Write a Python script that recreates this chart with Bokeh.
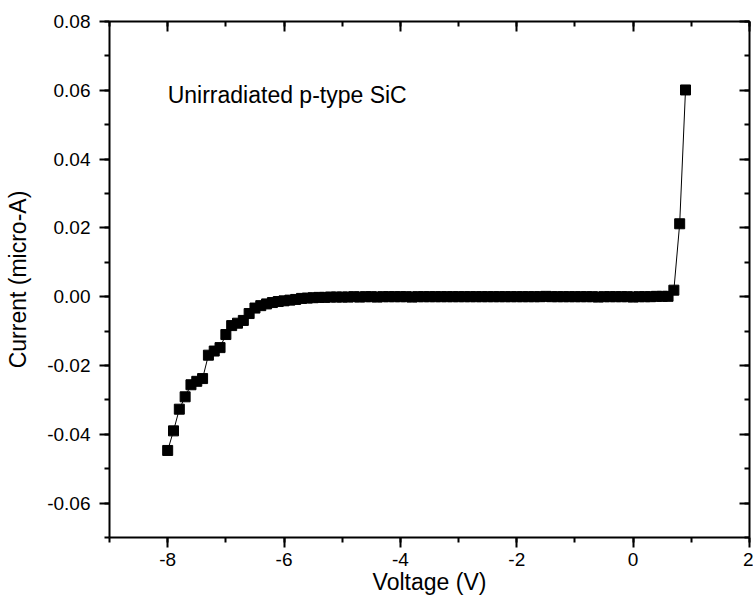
from bokeh.plotting import figure
from bokeh.models import (Range1d, LinearAxis, SingleIntervalTicker, PrintfTickFormatter,
                          Label, ColumnDataSource)
from bokeh.embed import file_html
from bokeh.resources import INLINE

voltage = [-8.0, -7.9, -7.8, -7.7, -7.6, -7.5, -7.4, -7.3, -7.2, -7.1,
           -7.0, -6.9, -6.8, -6.7, -6.6, -6.5, -6.4, -6.3, -6.2, -6.1,
           -6.0, -5.9, -5.8, -5.7, -5.6, -5.5, -5.4, -5.3, -5.2, -5.1,
           -5.0, -4.9, -4.8, -4.7, -4.6, -4.5, -4.4, -4.3, -4.2, -4.1,
           -4.0, -3.9, -3.8, -3.7, -3.6, -3.5, -3.4, -3.3, -3.2, -3.1,
           -3.0, -2.9, -2.8, -2.7, -2.6, -2.5, -2.4, -2.3, -2.2, -2.1,
           -2.0, -1.9, -1.8, -1.7, -1.6, -1.5, -1.4, -1.3, -1.2, -1.1,
           -1.0, -0.9, -0.8, -0.7, -0.6, -0.5, -0.4, -0.3, -0.2, -0.1,
           0.0, 0.1, 0.2, 0.3, 0.4, 0.5, 0.6, 0.7, 0.8, 0.9]

current = [-0.0447, -0.0390, -0.0327, -0.0291, -0.0256, -0.0246, -0.0238, -0.0170, -0.0158, -0.0148,
           -0.0110, -0.0084, -0.0077, -0.0069, -0.0049, -0.0033, -0.0026, -0.0021, -0.0017, -0.0014,
           -0.0012, -0.0010, -0.0008, -0.0005, -0.0004, -0.0003, -0.0002, -0.0002, -0.0001, -0.0001,
           -0.0001, -0.0001, 0.0000, -0.0001, 0.0000, 0.0000, -0.0001, 0.0000, 0.0000, 0.0000,
           0.0000, 0.0000, -0.0001, 0.0000, 0.0000, 0.0000, 0.0000, 0.0000, 0.0000, 0.0000,
           0.0000, 0.0000, 0.0000, 0.0000, 0.0000, 0.0000, 0.0000, 0.0000, 0.0000, 0.0000,
           0.0000, 0.0000, 0.0000, 0.0000, 0.0000, 0.0001, 0.0000, 0.0000, 0.0000, 0.0000,
           0.0000, 0.0000, 0.0000, 0.0000, -0.0001, 0.0000, 0.0000, 0.0000, 0.0000, 0.0000,
           -0.0001, 0.0000, 0.0000, 0.0000, 0.0001, 0.0001, 0.0001, 0.0019, 0.0212, 0.0601]

annotation = "Unirradiated p-type SiC"
x_title = "Voltage (V)"
y_title = "Current (micro-A)"

FONT = "Liberation Sans"

src = ColumnDataSource(data=dict(v=voltage, i=current))

p = figure(width=753, height=600, output_backend="svg", toolbar_location=None,
           x_range=Range1d(-9, 2), y_range=Range1d(-0.07, 0.08),
           x_axis_type=None, y_axis_type=None,
           min_border_left=109, min_border_right=4, min_border_top=21, min_border_bottom=63)
p.xgrid.visible = False
p.ygrid.visible = False
p.outline_line_color = None
p.background_fill_color = "white"
p.border_fill_color = "white"

def xt():
    return SingleIntervalTicker(interval=2, num_minor_ticks=2)

def yt():
    return SingleIntervalTicker(interval=0.02, num_minor_ticks=2)

def style(ax, inward, labels):
    ax.axis_line_width = 2
    ax.axis_line_color = "black"
    ax.major_tick_line_width = 2
    ax.minor_tick_line_width = 2
    ax.major_tick_line_color = "black"
    ax.minor_tick_line_color = "black"
    if inward:
        ax.major_tick_in = 10
        ax.major_tick_out = 0
        ax.minor_tick_in = 5
        ax.minor_tick_out = 0
    else:
        ax.major_tick_in = 0
        ax.major_tick_out = 10
        ax.minor_tick_in = 0
        ax.minor_tick_out = 5
    if not labels:
        ax.major_label_text_font_size = "0px"
        ax.major_label_text_color = None
    else:
        ax.major_label_text_font = FONT
        ax.major_label_text_font_size = "19px"
        ax.major_label_text_color = "black"
        ax.axis_label_text_font = FONT
        ax.axis_label_text_font_size = "23px"
        ax.axis_label_text_font_style = "normal"
        ax.axis_label_text_color = "black"

bottom = LinearAxis(ticker=xt(), formatter=PrintfTickFormatter(format="%d"), axis_label=x_title)
style(bottom, False, True)
bottom.major_label_standoff = 5
bottom.axis_label_standoff = 0
p.add_layout(bottom, "below")

left = LinearAxis(ticker=yt(), formatter=PrintfTickFormatter(format="%.2f"), axis_label=y_title)
style(left, False, True)
left.major_label_standoff = 9
left.axis_label_standoff = 13
p.add_layout(left, "left")

top = LinearAxis(ticker=xt())
style(top, True, False)
p.add_layout(top, "above")

right = LinearAxis(ticker=yt())
style(right, True, False)
p.add_layout(right, "right")

p.line("v", "i", source=src, line_color="black", line_width=1)
p.scatter("v", "i", source=src, marker="square", size=10, fill_color="black", line_color="black")

p.add_layout(Label(x=-8.0, y=0.0586, text=annotation, text_font=FONT, text_font_size="23px",
                   text_color="black", text_baseline="alphabetic", text_align="left"))

open("out.html", "w").write(file_html(p, INLINE))
